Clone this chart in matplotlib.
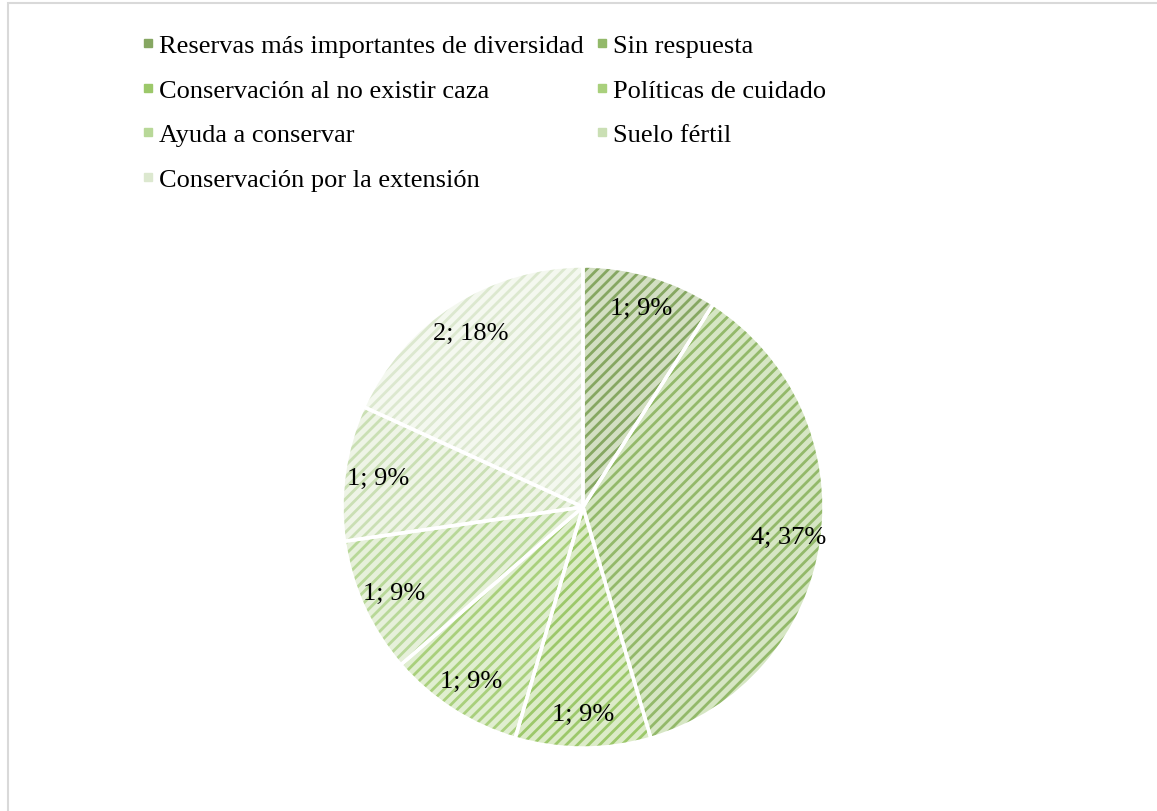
import matplotlib
matplotlib.use("Agg")
import matplotlib.pyplot as plt
from matplotlib.lines import Line2D
from matplotlib.patches import Rectangle

categories = [
    "Reservas más importantes de diversidad",
    "Sin respuesta",
    "Conservación al no existir caza",
    "Políticas de cuidado",
    "Ayuda a conservar",
    "Suelo fértil",
    "Conservación por la extensión",
]
values = [1, 4, 1, 1, 1, 1, 2]
percent_labels = ["9%", "37%", "9%", "9%", "9%", "9%", "18%"]
hatch_colors = ["#86a762", "#93b96a", "#9cc86a", "#a9d07c", "#b8d898", "#cadfb4", "#dce8cf"]
bg_colors = ["#d3dfc3", "#d6e6c4", "#dcebc8", "#e0eed0", "#e6f0da", "#eef4e6", "#f4f8ef"]

plt.rcParams["font.family"] = ["Liberation Serif", "DejaVu Serif"]
plt.rcParams["hatch.linewidth"] = 2.0

W, H = 1157, 812
fig = plt.figure(figsize=(W / 100, H / 100), dpi=100)

# pie axes
cx, cy, R = 583, 508, 241
ax = fig.add_axes([(cx - R) / W, (H - cy - R) / H, 2 * R / W, 2 * R / H])
labels = [f"{v}; {p}" for v, p in zip(values, percent_labels)]
wedges, texts = ax.pie(values, startangle=90, counterclock=False, labels=labels,
                       labeldistance=0.86, radius=1,
                       textprops=dict(fontsize=19, color="black", ha="center", va="center"))
for w, bg, hc in zip(wedges, bg_colors, hatch_colors):
    w.set_facecolor(bg)
    w.set_edgecolor(hc)
    w.set_hatch("///")
    w.set_linewidth(0)
for t in texts:
    t.set_ha("center")
    t.set_va("center")
ax.pie(values, startangle=90, counterclock=False, radius=1, colors=["none"] * len(values),
       wedgeprops=dict(edgecolor="white", linewidth=2.5))
ax.set_xlim(-1, 1)
ax.set_ylim(-1, 1)
ax.set_aspect("equal")
ax.axis("off")

# legend (row-wise order in 2 columns)
handles = [Line2D([], [], marker="s", linestyle="none", markersize=6,
                  markerfacecolor=c, markeredgecolor=c) for c in hatch_colors]
order = [0, 2, 4, 6, 1, 3, 5]
leg = fig.legend([handles[i] for i in order], [categories[i] for i in order],
                 ncol=2, loc="upper left", bbox_to_anchor=(118 / W, 1 - 11 / H),
                 frameon=False, fontsize=19, handlelength=0.5, handletextpad=0.15,
                 columnspacing=0.45, labelspacing=0.8)

# chart border
fig.add_artist(Rectangle((8 / W, -0.1), 1.2, (H - 4) / H + 0.1, transform=fig.transFigure,
                         fill=False, edgecolor="#d9d9d9", linewidth=1.5))

fig.savefig("out.png", dpi=100)
